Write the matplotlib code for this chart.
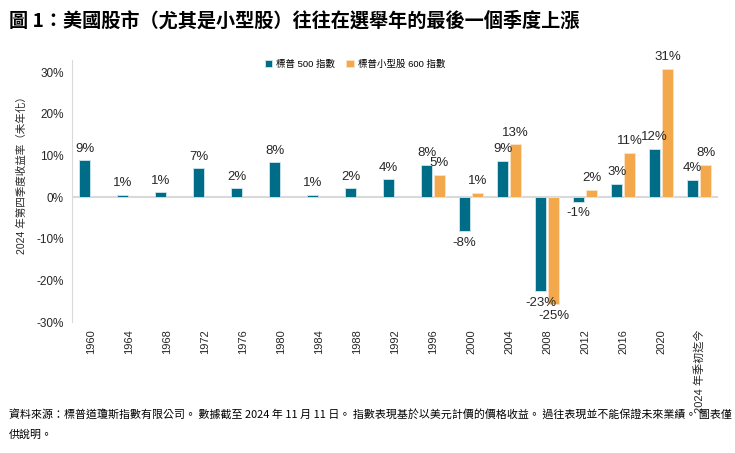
"""
Q4 returns in US election years: S&P 500 vs S&P SmallCap 600.
"""

import matplotlib
matplotlib.use('Agg')
import matplotlib.pyplot as plt
import numpy as np

plt.rcParams['font.family'] = ['Liberation Sans', 'Noto Sans CJK TC']

years = ['1960', '1964', '1968', '1972', '1976', '1980', '1984', '1988', '1992',
         '1996', '2000', '2004', '2008', '2012', '2016', '2020', '2024 年季初迄今']
sp500 = [8.8, 0.6, 1.2, 6.9, 2.1, 8.4, 0.6, 2.1, 4.3,
         7.8, -8.2, 8.7, -22.6, -1.1, 3.2, 11.6, 4.2]
sp600 = [None] * 9 + [5.4, 1.0, 12.7, -25.7, 1.8, 10.6, 30.8, 7.8]
sp500_labels = ['9%', '1%', '1%', '7%', '2%', '8%', '1%', '2%', '4%',
                '8%', '-8%', '9%', '-23%', '-1%', '3%', '12%', '4%']
sp600_labels = [None] * 9 + ['5%', '1%', '13%', '-25%', '2%', '11%', '31%', '8%']

blue = '#006d88'
orange = '#f2a84b'

fig = plt.figure(figsize=(7.35, 4.53), dpi=100)
ax = fig.add_axes([0.098, 0.289, 0.879, 0.5795])

x = np.arange(len(years))
off = 0.17
w = 0.28
ax.bar(x - off, sp500, w, color=blue, edgecolor='#cfe6ec', linewidth=0.6, label='標普 500 指數', zorder=3)
idx = [i for i, v in enumerate(sp600) if v is not None]
ax.bar(x[idx] + off, [sp600[i] for i in idx], w, color=orange, edgecolor='#fbe3c4',
       linewidth=0.6, label='標普小型股 600 指數', zorder=3)

for i, v in enumerate(sp500):
    ax.annotate(sp500_labels[i], (x[i] - off, v), xytext=(0, 4 if v > 0 else -4),
                textcoords='offset points', ha='center', va='bottom' if v > 0 else 'top',
                fontsize=9.5, color='#262626')
for i in idx:
    v = sp600[i]
    ax.annotate(sp600_labels[i], (x[i] + off, v), xytext=(0, 4 if v > 0 else -4),
                textcoords='offset points', ha='center', va='bottom' if v > 0 else 'top',
                fontsize=9.5, color='#262626')

ax.axhline(0, color='#d9d9d9', linewidth=1.5, zorder=2)
ax.set_xlim(-0.5, len(years) - 0.5)
ax.set_ylim(-30, 33)
ax.set_yticks(range(-30, 31, 10))
ax.set_yticklabels([f'{t}%' for t in range(-30, 31, 10)], fontsize=8.5, color='#262626')
ax.set_xticks(x)
ax.set_xticklabels(years, rotation=90, fontsize=8, color='#262626')
ax.tick_params(length=0, pad=6)
ax.tick_params(axis='x', pad=5)
for s in ['top', 'right', 'bottom']:
    ax.spines[s].set_visible(False)
ax.spines['left'].set_color('#d9d9d9')

fig.text(0.03, 0.62, '2024 年第四季度收益率（未年化）', rotation=90, ha='center', va='center',
         fontsize=7.6, color='#262626')

fig.legend(loc='center', bbox_to_anchor=(0.483, 0.859), ncol=2, frameon=False,
           fontsize=6.8, handlelength=0.8, handleheight=0.8, columnspacing=1.2, handletextpad=0.4)

fig.text(0.012, 0.955, '圖 1：美國股市（尤其是小型股）往往在選舉年的最後一個季度上漲',
         fontsize=13.8, fontweight='bold', family=['Noto Sans CJK TC', 'Liberation Sans'],
         va='center')

fig.text(0.012, 0.085, '資料來源：標普道瓊斯指數有限公司。 數據截至 2024 年 11 月 11 日。 指數表現基於以美元計價的價格收益。 過往表現並不能保證未來業績。 圖表僅',
         fontsize=7.9, va='center', family=['Noto Sans CJK TC', 'Liberation Sans'])
fig.text(0.012, 0.04, '供說明。', fontsize=7.9, va='center', family=['Noto Sans CJK TC', 'Liberation Sans'])

fig.savefig('out.png', dpi=100)
